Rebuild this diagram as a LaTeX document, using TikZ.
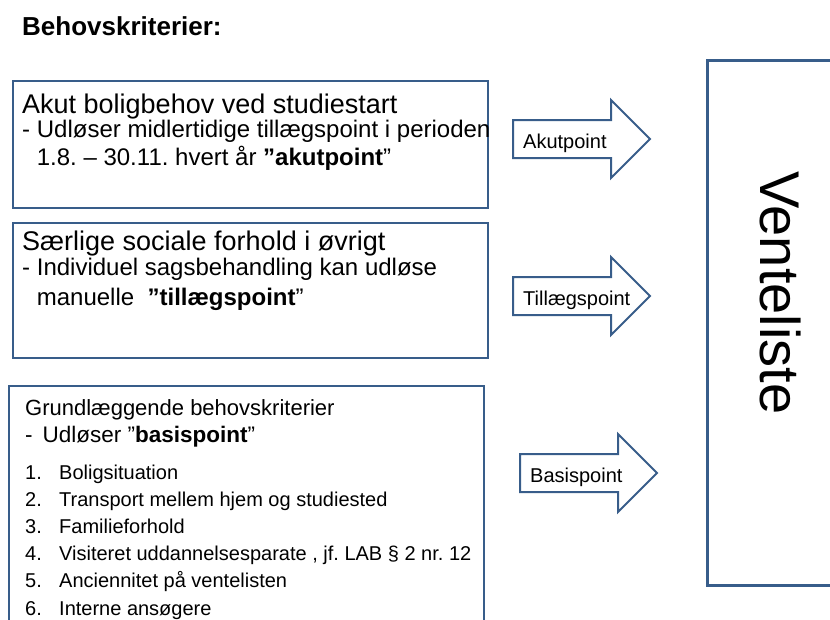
\documentclass[tikz,border=0pt]{standalone}
\usepackage{fontspec}
\setmainfont{Liberation Sans}
\definecolor{boxblue}{RGB}{56,93,138}
\frenchspacing

\begin{document}
\begin{tikzpicture}[x=1pt, y=-1pt, crit/.style={draw=boxblue, line width=2pt, anchor=north west, inner sep=0pt}, ptarrow/.style={draw=boxblue, line width=2pt, line join=miter}, ln/.style={anchor=base west, inner sep=0pt, font=\fontsize{24}{28}\selectfont}, hd/.style={anchor=base west, inner sep=0pt, font=\fontsize{27}{32}\selectfont}, lst/.style={anchor=base west, inner sep=0pt, font=\fontsize{20}{24}\selectfont}]
	\useasboundingbox (0,0) rectangle (830,619);
	\clip (0,0) rectangle (830,619);
	% boxes
	\node[crit, minimum width=475pt, minimum height=127pt] (akutbox) at (12,80) {};
	\node[crit, minimum width=475pt, minimum height=135pt] (socbox) at (12,222) {};
	\node[crit, line width=1.5pt, minimum width=475pt, minimum height=260pt] (basisbox) at (8,385) {};
	\node[crit, line width=3pt, minimum width=170pt, minimum height=525pt] (ventebox) at (706,59) {};
	\node[anchor=base west, inner sep=0pt, font=\bfseries\fontsize{26}{30}\selectfont] (title) at (22,35) {Behovskriterier:};
	% akut
	\node[hd] (akut1) at (22,113) {Akut boligbehov ved studiestart};
	\node[ln] (akut2) at (22,137) {- Udløser midlertidige tillægspoint i perioden};
	\node[ln] (akut3) at (22,165) {\phantom{- }1.8. – 30.11. hvert år \textbf{”akutpoint}”};
	% sociale forhold
	\node[hd] (soc1) at (22,250) {Særlige sociale forhold i øvrigt};
	\node[ln] (soc2) at (22,275) {- Individuel sagsbehandling kan udløse};
	\node[ln] (soc3) at (22,305) {\phantom{- }manuelle \ \textbf{”tillægspoint}”};
	% basis
	\node[lst, font=\fontsize{22}{26}\selectfont] (basis1) at (25,415) {Grundlæggende behovskriterier};
	\node[lst, font=\fontsize{22.5}{26}\selectfont] (basis2) at (25,442) {-\, Udløser ”\textbf{basispoint}”};
	\foreach \itm [count=\k] in {Boligsituation, Transport mellem hjem og studiested, Familieforhold, {Visiteret uddannelsesparate , jf. LAB § 2 nr. 12}, Anciennitet på ventelisten, Interne ansøgere} {
		\node[lst] (num\k) at (25,{479+27.2*(\k-1)}) {\k.};
		\node[lst] (item\k) at (59,{479+27.2*(\k-1)}) {\itm};
	}
	% point arrows
	\foreach \nm/\xa/\ya/\lb in {akut/513/139/Akutpoint, till/513/296/Tillægspoint, basis/520/473/Basispoint} {
		\draw[ptarrow] (\xa,\ya-19) -- ++(98,0) -- ++(0,-20) -- ++(39,39) -- ++(-39,39) -- ++(0,-20) -- ++(-98,0) -- cycle;
		\node[lst] (\nm pt) at (\xa+10,\ya+9) {\lb};
	}
	\node[rotate=-90, anchor=base, inner sep=0pt, font=\fontsize{56}{60}\selectfont] (vente) at (760,293) {Venteliste};
\end{tikzpicture}
\end{document}
